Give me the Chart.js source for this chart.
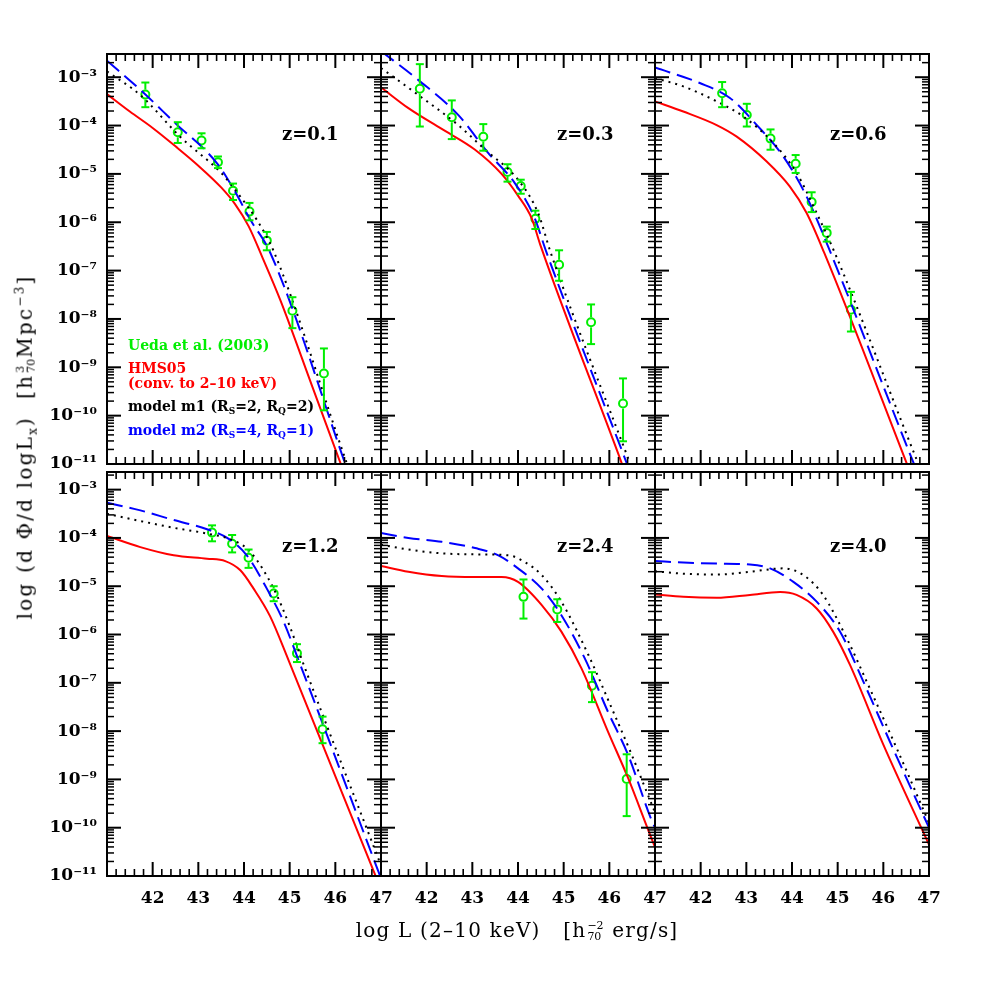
<!DOCTYPE html>
<html>
<head>
<meta charset="utf-8">
<script src="https://cdn.jsdelivr.net/npm/chart.js@4.4.1/dist/chart.umd.min.js"></script>
<style>
  body { margin: 0; background: #fff; }
  #wrap { position: relative; width: 981px; height: 981px; overflow: hidden; font-family: 'DejaVu Serif', serif; color: #000; }
  #charts canvas { position: absolute; left: 0; top: 0; }
  .txt { position: absolute; white-space: nowrap; line-height: 1; }
  .zl { font-size: 18px; font-weight: bold; }
  .leg { font-size: 14px; font-weight: bold; left: 128px; }
  .leg sub { font-size: 9px; vertical-align: -3px; }
  .title { font-size: 20px; letter-spacing: 1.2px; }
  .ytitle { letter-spacing: 2.2px; }
  .stk { display: inline-flex; flex-direction: column; font-size: 11px; line-height: 11px; letter-spacing: 0; vertical-align: 8px; margin: 0 1px; }
  .title sup { font-size: 12px; }
</style>
</head>
<body>
<div id="wrap">
  <div id="charts"></div>
  <div class="txt zl" style="left:282px;top:125px">z=0.1</div>
  <div class="txt zl" style="left:557px;top:125px">z=0.3</div>
  <div class="txt zl" style="left:830px;top:125px">z=0.6</div>
  <div class="txt zl" style="left:282px;top:537px">z=1.2</div>
  <div class="txt zl" style="left:557px;top:537px">z=2.4</div>
  <div class="txt zl" style="left:830px;top:537px">z=4.0</div>

  <div class="txt leg" style="top:338px;color:#00ee00">Ueda et al. (2003)</div>
  <div class="txt leg" style="top:361px;color:#ff0000">HMS05</div>
  <div class="txt leg" style="top:376px;color:#ff0000">(conv. to 2–10 keV)</div>
  <div class="txt leg" style="top:399px;color:#000">model m1 (R<sub>S</sub>=2, R<sub>Q</sub>=2)</div>
  <div class="txt leg" style="top:423px;color:#0000ff">model m2 (R<sub>S</sub>=4, R<sub>Q</sub>=1)</div>

  <div class="txt title" style="left:517px;top:931px;transform:translate(-50%,-50%)">log L (2–10 keV)&nbsp;&nbsp;&nbsp;[h<span class="stk"><span>−2</span><span>70</span></span> erg/s]</div>
  <div class="txt title ytitle" style="left:26px;top:447px;transform:translate(-50%,-50%) rotate(-90deg)">log (d Φ/d logL<sub style="font-size:12px">x</sub>)&nbsp;&nbsp;[h<span class="stk"><span>3</span><span>70</span></span>Mpc<sup>−3</sup>]</div>
</div>
<script>
var xTicks = [42, 43, 44, 45, 46, 47];
var yDecades = [-3, -4, -5, -6, -7, -8, -9, -10, -11];

// [log L, log phi]
var hms01 = [[41, -3.35], [41.5, -3.71], [42, -4.05], [42.5, -4.43], [43, -4.83], [43.5, -5.28], [43.8, -5.62], [44.1, -6.08], [44.4, -6.72], [44.8, -7.62], [45.5, -9.41], [46.12, -11], [46.3, -11.46]];
var m1z01 = [[41, -2.88], [41.73, -3.37], [42.6, -4.23], [43.52, -5.0], [43.92, -5.47], [44.28, -5.95], [44.65, -6.6], [46.25, -10.98], [46.45, -11.5]];
var m2z01 = [[41, -2.66], [41.73, -3.26], [42.46, -3.92], [43.41, -4.78], [43.74, -5.26], [44.14, -5.95], [44.57, -6.62], [46.21, -10.98], [46.4, -11.5]];
// Ueda et al. (2003): [log L, log phi, log low, log high]
var ueda01 = [[41.84, -3.36, -3.62, -3.11], [42.55, -4.14, -4.36, -3.93], [43.07, -4.31, -4.47, -4.16], [43.43, -4.76, -4.88, -4.64], [43.76, -5.35, -5.54, -5.20], [44.12, -5.78, -5.96, -5.60], [44.50, -6.38, -6.58, -6.20], [45.06, -7.83, -8.19, -7.55], [45.75, -9.13, -9.89, -8.61]];

var hms03 = [[41, -3.21], [41.6, -3.64], [42.33, -4.07], [43.06, -4.50], [43.64, -5.0], [44.0, -5.45], [44.3, -5.92], [44.5, -6.5], [46.27, -10.98], [46.45, -11.45]];
var m1z03 = [[41, -2.81], [41.82, -3.37], [42.69, -3.99], [43.28, -4.5], [44.0, -5.12], [44.44, -5.81], [44.72, -6.64], [46.45, -10.98], [46.6, -11.36]];
var m2z03 = [[41, -2.46], [41.82, -3.06], [42.69, -3.78], [43.35, -4.57], [43.93, -5.19], [44.35, -5.88], [44.63, -6.64], [46.38, -10.98], [46.55, -11.4]];
var ueda03 = [[41.85, -3.24, -4.02, -2.73], [42.55, -3.83, -4.28, -3.48], [43.24, -4.23, -4.52, -3.97], [43.77, -4.96, -5.16, -4.80], [44.06, -5.25, -5.41, -5.12], [44.38, -5.93, -6.14, -5.76], [44.90, -6.88, -7.21, -6.58], [45.60, -8.07, -8.52, -7.70], [46.30, -9.75, -10.53, -9.23]];

var hms06 = [[41, -3.50], [41.62, -3.71], [42.35, -3.99], [42.79, -4.23], [43.44, -4.74], [43.95, -5.26], [44.32, -5.81], [44.7, -6.62], [46.51, -10.98], [46.7, -11.44]];
var m1z06 = [[41, -3.02], [41.62, -3.19], [42.35, -3.50], [42.93, -3.81], [43.59, -4.36], [44.10, -4.98], [44.54, -5.81], [44.94, -6.64], [46.73, -10.91], [46.9, -11.3]];
var m2z06 = [[41, -2.80], [41.98, -3.12], [42.64, -3.43], [43.23, -3.99], [43.81, -4.64], [44.32, -5.47], [44.85, -6.64], [46.62, -10.88], [46.8, -11.3]];
var ueda06 = [[42.47, -3.33, -3.62, -3.10], [43.01, -3.78, -4.02, -3.55], [43.53, -4.27, -4.50, -4.08], [44.08, -4.79, -4.98, -4.61], [44.43, -5.58, -5.79, -5.38], [44.76, -6.22, -6.40, -6.09], [45.29, -7.81, -8.26, -7.44]];

var hms12 = [[41, -3.96], [41.73, -4.19], [42.46, -4.36], [43.19, -4.43], [43.59, -4.48], [43.92, -4.67], [44.21, -5.05], [44.57, -5.62], [44.97, -6.52], [46.87, -10.97], [47.05, -11.4]];
var m1z12 = [[41, -3.50], [41.73, -3.65], [42.46, -3.79], [43.19, -3.91], [43.77, -4.05], [44.14, -4.29], [44.65, -5.05], [45.01, -5.85], [45.25, -6.48], [47, -10.78]];
var m2z12 = [[41, -3.27], [41.73, -3.43], [42.46, -3.63], [43.19, -3.82], [43.63, -4.0], [44.06, -4.36], [44.50, -5.05], [44.87, -5.74], [45.19, -6.52], [46.94, -10.90], [47.1, -11.3]];
var ueda12 = [[43.30, -3.89, -4.07, -3.74], [43.74, -4.12, -4.30, -3.94], [44.10, -4.41, -4.62, -4.24], [44.65, -5.15, -5.31, -5.00], [45.16, -6.39, -6.57, -6.20], [45.72, -7.96, -8.25, -7.70]];

var hms24 = [[41, -4.58], [41.6, -4.70], [42.33, -4.79], [43.06, -4.81], [43.64, -4.81], [44.0, -4.91], [44.52, -5.39], [44.95, -5.94], [45.39, -6.70], [45.97, -8.01], [46.41, -8.97], [46.96, -10.31], [47, -10.4]];
var m1z24 = [[41, -4.14], [41.6, -4.24], [42.33, -4.32], [43.06, -4.34], [43.79, -4.36], [44.15, -4.50], [44.52, -4.77], [44.95, -5.32], [45.54, -6.42], [46.05, -7.52], [46.49, -8.49], [46.96, -9.59], [47, -9.68]];
var m2z24 = [[41, -3.90], [41.6, -4.0], [42.33, -4.08], [43.06, -4.21], [43.57, -4.36], [44.0, -4.63], [44.52, -5.05], [44.95, -5.60], [45.46, -6.49], [45.97, -7.60], [46.41, -8.49], [46.89, -9.76], [47, -10.0]];
var ueda24 = [[44.12, -5.22, -5.67, -4.86], [44.86, -5.48, -5.74, -5.27], [45.62, -7.06, -7.40, -6.78], [46.38, -8.99, -9.76, -8.48]];

var hms40 = [[41, -5.17], [41.62, -5.22], [42.35, -5.24], [43.08, -5.18], [43.74, -5.12], [44.10, -5.18], [44.54, -5.46], [44.90, -5.94], [45.27, -6.63], [46.0, -8.28], [47, -10.35]];
var m1z40 = [[41, -4.69], [41.62, -4.74], [42.35, -4.76], [43.08, -4.70], [43.81, -4.63], [44.25, -4.77], [44.68, -5.18], [45.20, -6.08], [45.70, -7.11], [46.29, -8.35], [47, -9.9]];
var m2z40 = [[41, -4.48], [41.62, -4.51], [42.35, -4.53], [43.08, -4.55], [43.52, -4.63], [44.03, -4.91], [44.54, -5.32], [45.05, -5.94], [45.56, -6.97], [46.14, -8.21], [47, -10.0]];
var ueda40 = [];

var RED = '#ff0000', BLUE = '#0000ff', BLACK = '#000000', GREEN = '#00ee00';
var tickFont = { family: 'DejaVu Serif', size: 17, weight: 'bold' };
var cols = [[107, 381], [381, 655], [655, 929]];
var rows = [{ top: 54, bottom: 464, ymax: -2.52 }, { top: 472, bottom: 876, ymax: -2.635 }];
var panels = [
  { col: 0, row: 0, hms: hms01, m1: m1z01, m2: m2z01, ueda: ueda01 },
  { col: 1, row: 0, hms: hms03, m1: m1z03, m2: m2z03, ueda: ueda03 },
  { col: 2, row: 0, hms: hms06, m1: m1z06, m2: m2z06, ueda: ueda06 },
  { col: 0, row: 1, hms: hms12, m1: m1z12, m2: m2z12, ueda: ueda12 },
  { col: 1, row: 1, hms: hms24, m1: m1z24, m2: m2z24, ueda: ueda24 },
  { col: 2, row: 1, hms: hms40, m1: m1z40, m2: m2z40, ueda: ueda40 }
];

var SUP = { '0': '⁰', '1': '¹', '2': '²', '3': '³', '4': '⁴', '5': '⁵', '6': '⁶', '7': '⁷', '8': '⁸', '9': '⁹', '-': '⁻' };
function powLabel(v) {
  var e = String(Math.round(Math.log10(v))), s = '';
  for (var i = 0; i < e.length; i++) s += SUP[e[i]];
  return '10' + s;
}
function pts(arr) { return arr.map(function(p) { return { x: p[0], y: Math.pow(10, p[1]) }; }); }

function lineSet(arr, color, dash) {
  return { data: pts(arr), borderColor: color, borderWidth: 2, borderDash: dash, pointRadius: 0, fill: false, cubicInterpolationMode: 'monotone' };
}
function uedaSet(arr) {
  return {
    data: pts(arr),
    errLo: arr.map(function(p) { return Math.pow(10, p[2]); }),
    errHi: arr.map(function(p) { return Math.pow(10, p[3]); }),
    showLine: false, borderColor: GREEN, pointRadius: 4, pointBorderWidth: 2,
    pointBorderColor: GREEN, pointBackgroundColor: 'rgba(0,0,0,0)'
  };
}

function seg(ctx, x1, y1, x2, y2) { ctx.beginPath(); ctx.moveTo(x1, y1); ctx.lineTo(x2, y2); ctx.stroke(); }

var framePlugin = {
  id: 'frame',
  afterDatasetsDraw: function(chart) {
    var ctx = chart.ctx, a = chart.chartArea, xs = chart.scales.x, ys = chart.scales.y;
    ctx.save();
    ctx.beginPath(); ctx.rect(a.left, a.top, a.right - a.left, a.bottom - a.top); ctx.clip();
    chart.data.datasets.forEach(function(ds) {
      if (!ds.errLo) return;
      ctx.strokeStyle = ds.borderColor; ctx.lineWidth = 2;
      ds.data.forEach(function(p, k) {
        var px = xs.getPixelForValue(p.x), py = ys.getPixelForValue(p.y);
        var hi = ys.getPixelForValue(ds.errHi[k]), lo = ys.getPixelForValue(ds.errLo[k]), r = 5;
        if (hi < py - r) seg(ctx, px, hi, px, py - r);
        if (lo > py + r) seg(ctx, px, py + r, px, lo);
        seg(ctx, px - 4, hi, px + 4, hi);
        seg(ctx, px - 4, lo, px + 4, lo);
      });
    });
    ctx.restore();
  },
  afterDraw: function(chart) {
    var ctx = chart.ctx, a = chart.chartArea, xs = chart.scales.x, ys = chart.scales.y;
    ctx.save();
    ctx.strokeStyle = '#000'; ctx.lineCap = 'butt';
    for (var i = 206; i < 235; i++) {
      var px = xs.getPixelForValue(i / 5), major = i % 5 === 0, len = major ? 14 : 7;
      ctx.lineWidth = major ? 2 : 1.6;
      seg(ctx, px, a.bottom, px, a.bottom - len);
      seg(ctx, px, a.top, px, a.top + len);
    }
    for (var d = -12; d <= -2; d++) {
      for (var m = 1; m <= 9; m++) {
        var v = m * Math.pow(10, d);
        if (v <= ys.min || v >= ys.max) continue;
        var py = ys.getPixelForValue(v), ln = m === 1 ? 14 : 7;
        if (Math.abs(py - a.bottom) < 1 || Math.abs(py - a.top) < 1) continue;
        ctx.lineWidth = m === 1 ? 2 : 1.5;
        seg(ctx, a.left, py, a.left + ln, py);
        seg(ctx, a.right, py, a.right - ln, py);
      }
    }
    ctx.lineWidth = 2;
    ctx.strokeRect(a.left, a.top, a.right - a.left, a.bottom - a.top);
    ctx.restore();
  }
};

function makePanel(p) {
  var c = cols[p.col], r = rows[p.row];
  var showY = p.col === 0, showX = p.row === 1;
  var YW = showY ? 60 : 0, XH = showX ? 40 : 0;
  var canvas = document.createElement('canvas');
  canvas.width = 981; canvas.height = 981;
  document.getElementById('charts').appendChild(canvas);
  var sets = [lineSet(p.hms, RED, []), lineSet(p.m1, BLACK, [2, 5]), lineSet(p.m2, BLUE, [16, 7])];
  if (p.ueda.length) sets.push(uedaSet(p.ueda));
  new Chart(canvas.getContext('2d'), {
    type: 'line',
    data: { datasets: sets },
    options: {
      responsive: false, animation: false, devicePixelRatio: 1,
      layout: { padding: { left: c[0] - YW, right: 981 - c[1], top: r.top, bottom: 981 - r.bottom - XH } },
      plugins: { legend: { display: false }, tooltip: { enabled: false } },
      scales: {
        x: {
          type: 'linear', min: 41, max: 47, display: showX,
          grid: { display: false, drawTicks: false }, border: { display: false },
          afterFit: function(s) { s.height = XH; },
          afterBuildTicks: function(s) { s.ticks = xTicks.map(function(v) { return { value: v }; }); },
          ticks: { autoSkip: false, maxRotation: 0, padding: 12, color: '#000', font: tickFont, callback: function(v) { return String(v); } }
        },
        y: {
          type: 'logarithmic', min: 1e-11, max: Math.pow(10, r.ymax), display: showY,
          grid: { display: false, drawTicks: false }, border: { display: false },
          afterFit: function(s) { s.width = YW; },
          afterBuildTicks: function(s) { s.ticks = yDecades.map(function(e) { return { value: Math.pow(10, e) }; }); },
          ticks: { autoSkip: false, padding: 10, color: '#000', font: tickFont, callback: function(v) { return powLabel(v); } }
        }
      }
    },
    plugins: [framePlugin]
  });
}

panels.forEach(makePanel);
</script>
</body>
</html>
